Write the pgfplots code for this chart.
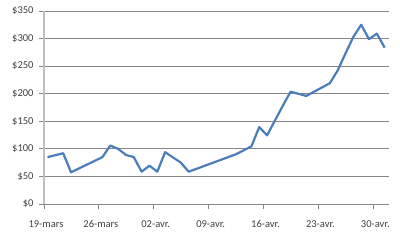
\documentclass[border=0pt]{standalone}
\usepackage{fontspec}
\setmainfont{Carlito}
\usepackage{pgfplots}
\pgfplotsset{compat=1.18}
\definecolor{lineblue}{HTML}{4A7EBB}
\definecolor{gridgray}{HTML}{868686}
\definecolor{axgray}{HTML}{BFBFBF}
\begin{document}
\begin{tikzpicture}
\useasboundingbox (0,0) rectangle (400bp,241bp);
\begin{axis}[
  at={(44bp,37bp)}, anchor=south west,
  scale only axis, width=345bp, height=193bp,
  xmin=0, xmax=44, ymin=0, ymax=350,
  xtick={0,7,14,21,28,35,42},
  xticklabels={19-mars,26-mars,02-avr.,09-avr.,16-avr.,23-avr.,30-avr.},
  ytick={0,50,100,150,200,250,300,350},
  yticklabels={\$0,\$50,\$100,\$150,\$200,\$250,\$300,\$350},
  ymajorgrids, grid style={gridgray, line width=0.8pt},
  axis x line*=bottom, axis y line*=left,
  x axis line style={gridgray, line width=0.8pt, -},
  y axis line style={axgray, line width=1.5pt, -},
  tick style={gridgray, line width=0.8pt},
  major tick length=5bp,
  xtick pos=bottom, ytick pos=left,
  tick align=outside,
  ticklabel style={font=\fontsize{10.5bp}{12bp}\selectfont, text=black!75},
  xticklabel style={yshift=-8bp, xshift=2bp},
  yticklabel style={xshift=-2bp},
  /pgf/number format/assume math mode=true,
  clip=false,
]
\addplot[lineblue, line width=2.2bp, line join=round] coordinates {
(0.45,85) (2.45,92) (3.45,57.5) (7.45,85) (8.45,106) (9.45,100) (10.45,89)
(11.45,85) (12.45,58.6) (13.45,69.5) (14.45,58.6) (15.45,94) (17.45,75)
(18.45,58.6) (24.45,90) (26.45,104.5) (27.45,139.5) (28.45,124.5)
(30.45,178) (31.45,203.7) (33.45,196) (36.45,219) (37.45,242) (38.45,273)
(39.45,303) (40.45,325) (41.45,299) (42.45,309) (43.45,283.5)
};
\end{axis}
\end{tikzpicture}
\end{document}
